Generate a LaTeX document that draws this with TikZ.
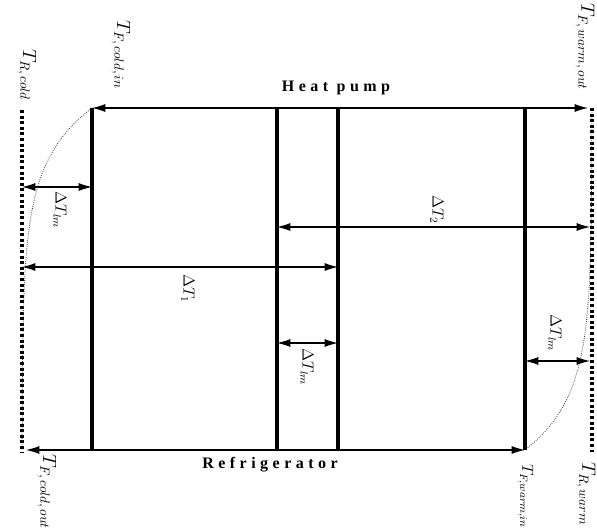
\documentclass[tikz,border=0pt]{standalone}
\usepackage{fontspec}
\setmainfont{Liberation Serif}
\newfontfamily\capfont[LetterSpace=28]{Liberation Serif}
\usetikzlibrary{arrows.meta}
\tikzset{
  ar/.style={{Latex[length=10pt,width=6pt]}-{Latex[length=10pt,width=6pt]},thick},
  wall/.style={line width=2.3pt},
  res/.style={line width=2.5pt,dash pattern=on 2.2pt off 2pt},
  prof/.style={semithick,densely dotted,black!80},
  lbl/.style={rotate=-90,inner sep=1pt,font=\Large},
  dlbl/.style={rotate=-90,inner sep=1pt,font=\large},
  cycl/.style={font=\capfont\bfseries\large,inner sep=1pt}
}

\begin{document}
\begin{tikzpicture}[x=0.75pt,y=-0.75pt]
\useasboundingbox (0,0) rectangle (597,531);
% end points
\coordinate (ci) at (92,108);
\coordinate (co) at (92,450);
\coordinate (mat) at (277,108);
\coordinate (mab) at (277,450);
\coordinate (mbt) at (338,108);
\coordinate (mbb) at (338,450);
\coordinate (wt) at (525,108);
\coordinate (wi) at (525,450);
\coordinate (wo) at (588,108);
\coordinate (cout) at (26,450);
\coordinate (rct) at (22,110);
\coordinate (rcb) at (22,452);
\coordinate (rwt) at (592,108);
\coordinate (rwb) at (592,452);
% dimension ends
\coordinate (la) at (22,187);
\coordinate (lb) at (92,187);
\coordinate (oa) at (22,267);
\coordinate (ob) at (338,267);
\coordinate (ta) at (277,227);
\coordinate (tb) at (590,227);
\coordinate (ma) at (277,343);
\coordinate (mb) at (338,343);
\coordinate (ra) at (525,361);
\coordinate (rb) at (590,361);

% reservoirs
\draw[res] (rct) -- (rcb);
\draw[res] (rwt) -- (rwb);
% fluid profiles
\draw[prof,domain=108:450,samples=50] plot ({22+70*exp(-0.019*(\x-108))},\x);
\draw[prof,domain=108:450,samples=50] plot ({592-67*exp(-0.0193*(450-\x))},\x);
% walls
\draw[wall] (ci) -- (co);
\draw[wall] (mat) -- (mab);
\draw[wall] (mbt) -- (mbb);
\draw[wall] (wt) -- (wi);
% cycles
\draw[ar] (ci) -- (wo);
\draw[ar] (cout) -- (wi);
\node[cycl] (hp) at (336,88) {Heat pump};
\node[cycl] (rf) at (270,465) {Refrigerator};
% differences
\draw[ar] (la) -- (lb);
\draw[ar] (oa) -- (ob);
\draw[ar] (ta) -- (tb);
\draw[ar] (ma) -- (mb);
\draw[ar] (ra) -- (rb);
\node[dlbl] (dl1) at (60,210) {$\Delta T_{lm}$};
\node[dlbl] (d1) at (188,289) {$\Delta T_{1}$};
\node[dlbl] (d2) at (437,210) {$\Delta T_{2}$};
\node[dlbl] (dl2) at (307,367) {$\Delta T_{lm}$};
\node[dlbl] (dl3) at (555,333) {$\Delta T_{lm}$};
% temperatures
\node[lbl] (trc) at (27,75) {$T_{R,\,cold}$};
\node[lbl] (tfci) at (121,55) {$T_{F,\,cold,\,in}$};
\node[lbl,anchor=north] (tfwo) at (596,47) {$T_{F,\,warm,\,out}$};
\node[lbl] (tfco) at (47,492) {$T_{F,\,cold,\,out}$};
\node[lbl,font=\large,anchor=north east] (tfwi) at (535,530) {$T_{F,warm,in}$};
\node[lbl,anchor=north] (trw) at (597,494) {$T_{R,\,warm}$};
\end{tikzpicture}
\end{document}
